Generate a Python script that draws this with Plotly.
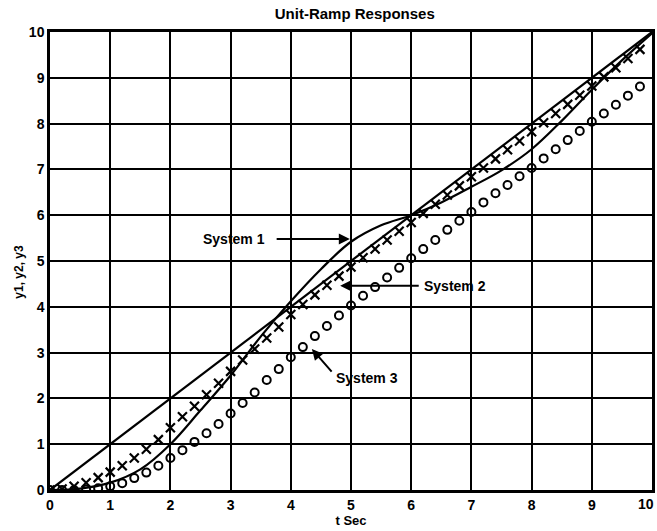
import plotly.graph_objects as go

# ---- data ----
t_ramp = [0, 10]
y_ramp = [0, 10]

t_sys1 = [0, 0.5, 1, 1.5, 2, 2.5, 3, 3.5, 4, 4.5, 5, 5.5, 6, 6.5, 7, 7.5, 8, 8.5, 9, 9.5, 10]
y_sys1 = [0, 0.03, 0.16, 0.45, 1.0, 1.74, 2.5, 3.35, 4.12, 4.82, 5.42, 5.78, 6.0, 6.28, 6.62,
          6.98, 7.44, 8.06, 8.74, 9.38, 9.97]

t_marks = [0, 0.2, 0.4, 0.6, 0.8, 1.0, 1.2, 1.4, 1.6, 1.8, 2.0, 2.2, 2.4, 2.6, 2.8, 3.0, 3.2,
           3.4, 3.6, 3.8, 4.0, 4.2, 4.4, 4.6, 4.8, 5.0, 5.2, 5.4, 5.6, 5.8, 6.0, 6.2, 6.4,
           6.6, 6.8, 7.0, 7.2, 7.4, 7.6, 7.8, 8.0, 8.2, 8.4, 8.6, 8.8, 9.0, 9.2, 9.4, 9.6, 9.8]

y_sys2 = [0, 0.02, 0.08, 0.16, 0.27, 0.39, 0.53, 0.70, 0.89, 1.10, 1.36, 1.60, 1.83, 2.08,
          2.33, 2.59, 2.84, 3.08, 3.32, 3.56, 3.83, 4.05, 4.26, 4.47, 4.67, 4.87, 5.07, 5.26,
          5.46, 5.65, 5.84, 6.04, 6.24, 6.44, 6.64, 6.84, 7.03, 7.23, 7.43, 7.62, 7.82, 8.02,
          8.22, 8.42, 8.62, 8.82, 9.02, 9.22, 9.42, 9.62]

y_sys3 = [0, 0.0, 0.0, 0.01, 0.04, 0.08, 0.15, 0.26, 0.38, 0.53, 0.70, 0.87, 1.05, 1.24,
          1.44, 1.67, 1.90, 2.13, 2.40, 2.64, 2.90, 3.12, 3.36, 3.58, 3.81, 4.03, 4.24, 4.43,
          4.64, 4.85, 5.06, 5.26, 5.46, 5.68, 5.88, 6.07, 6.28, 6.48, 6.66, 6.85, 7.03, 7.24,
          7.44, 7.64, 7.84, 8.04, 8.22, 8.41, 8.61, 8.81]

x_tick_vals = [0, 1, 2, 3, 4, 5, 6, 7, 8, 9, 10]
x_tick_text = ["0", "1", "2", "3", "4", "5", "6", "7", "8", "9", ""]
x_last_label = "10"
y_tick_vals = [0, 1, 2, 3, 4, 5, 6, 7, 8, 9, 10]
y_tick_text = ["0", "1", "2", "3", "4", "5", "6", "7", "8", "9", "10"]

FONT = "Liberation Sans"

fig = go.Figure()
fig.add_trace(go.Scatter(x=t_ramp, y=y_ramp, mode="lines",
                         line=dict(color="black", width=2.2), showlegend=False))
fig.add_trace(go.Scatter(x=t_sys1, y=y_sys1, mode="lines", line_shape="spline",
                         line=dict(color="black", width=2.2), showlegend=False))
fig.add_trace(go.Scatter(x=t_marks, y=y_sys2, mode="markers",
                         marker=dict(symbol="x-thin-open", size=9, color="black",
                                     line=dict(color="black", width=2.2)),
                         showlegend=False))
fig.add_trace(go.Scatter(x=t_marks, y=y_sys3, mode="markers",
                         marker=dict(symbol="circle-open", size=8, color="black",
                                     line=dict(color="black", width=2)),
                         showlegend=False))

tick_font = dict(family=FONT, size=14, color="black", weight="bold")
axis_common = dict(
    range=[0, 10],
    showgrid=True, gridcolor="black", gridwidth=2,
    showline=True, linecolor="black", linewidth=2.5, mirror=True,
    zeroline=False, ticks="", automargin=False,
    tickfont=tick_font,
)

fig.update_layout(
    width=657, height=531,
    margin=dict(l=50, r=5, t=32, b=41),
    paper_bgcolor="white", plot_bgcolor="white",
    hovermode=False,
    title=dict(text="Unit-Ramp Responses", x=0.54, xanchor="center",
               y=1 - 14 / 531, yanchor="middle", yref="container",
               font=dict(family=FONT, size=15, color="black", weight="bold")),
    xaxis=dict(axis_common, tickvals=x_tick_vals, ticktext=x_tick_text,
               title=dict(text="t Sec", standoff=2,
                          font=dict(family=FONT, size=13, color="black", weight="bold"))),
    yaxis=dict(axis_common, tickvals=y_tick_vals, ticktext=y_tick_text),
)

# last x tick label, kept inside the figure edge
fig.add_annotation(x=10, y=0, xref="x", yref="paper", text=x_last_label, showarrow=False,
                   xanchor="right", yanchor="top", xshift=4, yshift=-4, font=tick_font)
# y-axis title
fig.add_annotation(x=-0.052, y=0.476, xref="paper", yref="paper", text="y1, y2, y3",
                   textangle=-90, showarrow=False, xanchor="center", yanchor="middle",
                   font=dict(family=FONT, size=12, color="black", weight="bold"))

lab_font = dict(family=FONT, size=14, color="black", weight="bold")
arrow_kw = dict(showarrow=True, arrowhead=2, arrowsize=1.1, arrowwidth=2,
                arrowcolor="black", axref="x", ayref="y", text="")

# System 1
fig.add_annotation(x=4.98, y=5.48, ax=3.74, ay=5.48, **arrow_kw)
fig.add_annotation(x=3.6, y=5.48, text="System 1", showarrow=False,
                   xanchor="right", yanchor="middle", font=lab_font)
# System 2
fig.add_annotation(x=4.82, y=4.46, ax=6.15, ay=4.46, **arrow_kw)
fig.add_annotation(x=6.18, y=4.46, text="System 2", showarrow=False,
                   xanchor="left", yanchor="middle", font=lab_font)
# System 3
fig.add_annotation(x=4.35, y=3.08, ax=4.7, ay=2.55, **arrow_kw)
fig.add_annotation(x=4.72, y=2.45, text="System 3", showarrow=False,
                   xanchor="left", yanchor="middle", font=lab_font)

fig.write_html("out.html", config={"displayModeBar": False},
               post_script="document.body.style.margin='0';document.body.style.overflow='hidden';")
